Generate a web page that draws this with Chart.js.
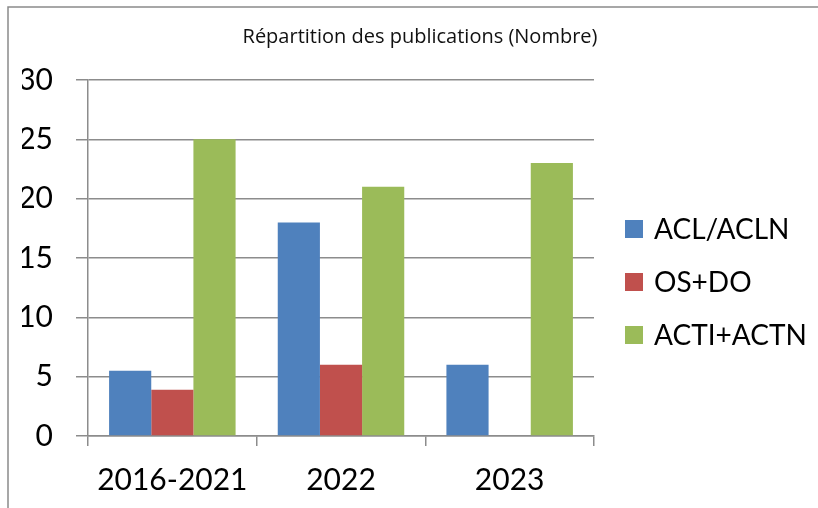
<!DOCTYPE html>
<html>
<head>
<meta charset="utf-8">
<script src="https://cdn.jsdelivr.net/npm/chart.js@4"></script>
<style>
  html, body { margin: 0; padding: 0; background: #fff; }
  #wrap { width: 818px; height: 508px; position: relative; }
</style>
</head>
<body>
<div id="wrap"><canvas id="pubChart" width="818" height="508"></canvas></div>
<script>
// Données du graphique
const categories = ['2016-2021', '2022', '2023'];
const seriesNames = ['ACL/ACLN', 'OS+DO', 'ACTI+ACTN'];
const aclValues = [5.5, 18, 6];
const osValues = [3.9, 6, 0];
const actiValues = [25, 21, 23];
const yTicks = [0, 5, 10, 15, 20, 25, 30];

const colors = ['#4f81bd', '#c0504d', '#9bbb59'];
const gridGray = '#8c8c8c';
const fontName = 'Lato, "Open Sans", sans-serif';

// cadre gris (haut + gauche) comme dans l'original
const framePlugin = {
    id: 'frame',
    beforeDraw: function(chart) {
        const ctx = chart.ctx;
        ctx.save();
        ctx.strokeStyle = '#8a8a8a';
        ctx.lineWidth = 1.5;
        ctx.beginPath();
        ctx.moveTo(8, chart.height);
        ctx.lineTo(8, 7);
        ctx.lineTo(chart.width, 7);
        ctx.stroke();
        ctx.restore();
    }
};

// légende à droite, dessinée à la main pour placer les éléments
const sideLegend = {
    id: 'sideLegend',
    afterDraw: function(chart) {
        const ctx = chart.ctx;
        const area = chart.chartArea;
        const x0 = area.right + 31;
        const step = 53;
        const midY = (area.top + area.bottom) / 2 + 24;
        ctx.save();
        ctx.font = '28px ' + fontName;
        ctx.textBaseline = 'middle';
        ctx.textAlign = 'left';
        chart.data.datasets.forEach(function(ds, i) {
            const y = midY + (i - 1) * step;
            ctx.fillStyle = ds.backgroundColor;
            ctx.fillRect(x0, y - 9, 18, 18);
            ctx.fillStyle = '#000';
            ctx.fillText(ds.label, x0 + 29, y + 1);
        });
        ctx.restore();
    }
};

document.addEventListener('DOMContentLoaded', function() {
    const ctx = document.getElementById('pubChart').getContext('2d');

    new Chart(ctx, {
        type: 'bar',
        data: {
            labels: categories,
            datasets: [
                { label: seriesNames[0], data: aclValues, backgroundColor: colors[0] },
                { label: seriesNames[1], data: osValues, backgroundColor: colors[1] },
                { label: seriesNames[2], data: actiValues, backgroundColor: colors[2] }
            ]
        },
        options: {
            responsive: false,
            animation: false,
            categoryPercentage: 0.75,
            barPercentage: 1,
            layout: {
                padding: { left: 22, right: 0, top: 0, bottom: 0 }
            },
            plugins: {
                legend: { display: false },
                tooltip: { enabled: false },
                title: {
                    display: true,
                    text: 'Répartition des publications (Nombre)',
                    color: '#111',
                    font: { family: '"Open Sans", sans-serif', size: 20, weight: 'normal' },
                    padding: { top: 25, bottom: 31 }
                }
            },
            scales: {
                x: {
                    grid: {
                        drawOnChartArea: false,
                        tickLength: 10,
                        color: gridGray,
                        lineWidth: 1.5
                    },
                    border: { color: gridGray, width: 1.5 },
                    ticks: {
                        color: '#000',
                        padding: 16,
                        font: { family: fontName, size: 30 }
                    },
                    afterFit: function(scale) { scale.height = 72; }
                },
                y: {
                    min: yTicks[0],
                    max: yTicks[yTicks.length - 1],
                    afterBuildTicks: function(scale) {
                        scale.ticks = yTicks.map(function(v) { return { value: v }; });
                    },
                    grid: {
                        color: gridGray,
                        lineWidth: 1.5,
                        tickLength: 12
                    },
                    border: { color: gridGray, width: 1.5 },
                    ticks: {
                        color: '#000',
                        padding: 23,
                        font: { family: fontName, size: 30 }
                    },
                    afterFit: function(scale) { scale.width = 66; }
                },
                // axe vide à droite : réserve la place de la légende
                legendSpace: {
                    type: 'linear',
                    position: 'right',
                    display: true,
                    grid: { display: false },
                    border: { display: false },
                    ticks: { display: false },
                    afterFit: function(scale) { scale.width = 224; }
                }
            }
        },
        plugins: [framePlugin, sideLegend]
    });
});
</script>
</body>
</html>
